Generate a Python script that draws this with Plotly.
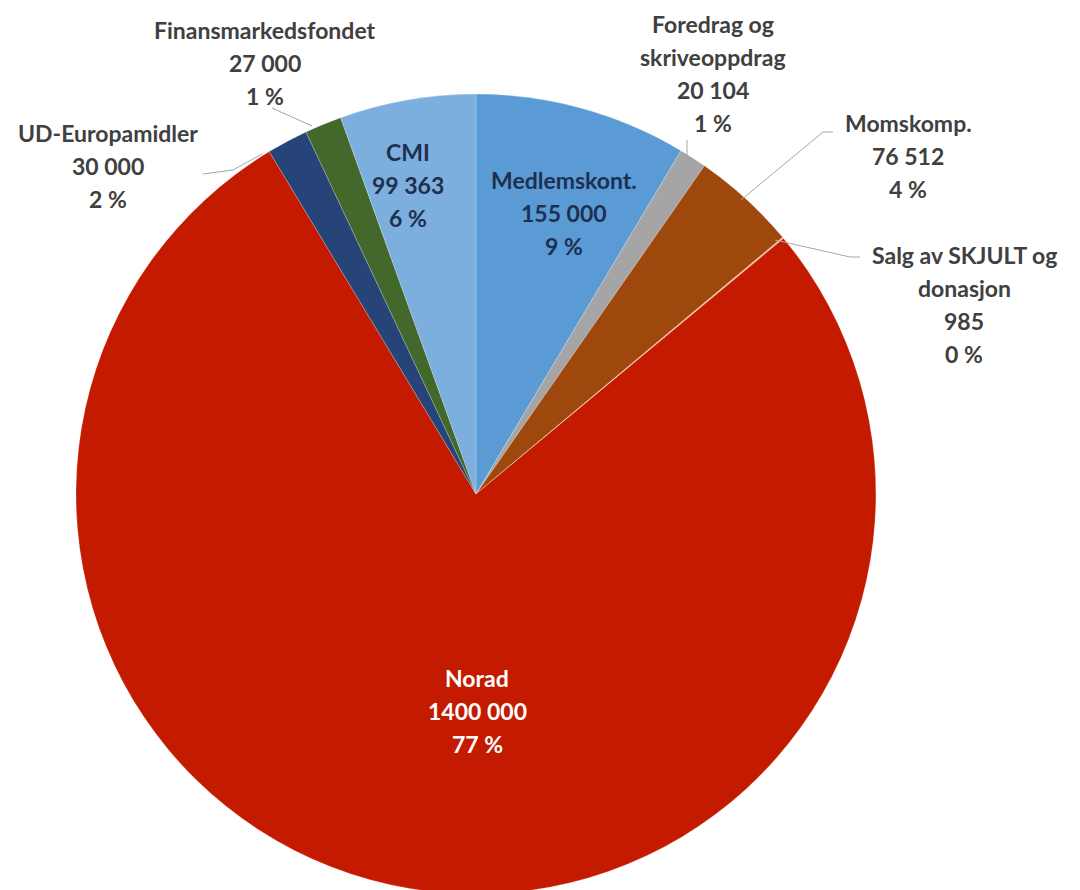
import plotly.graph_objects as go

labels = ["Medlemskont.", "Foredrag og skriveoppdrag", "Momskomp.", "Salg av SKJULT og donasjon",
          "Norad", "UD-Europamidler", "Finansmarkedsfondet", "CMI"]
label_lines = [["Medlemskont."], ["Foredrag og", "skriveoppdrag"], ["Momskomp."],
               ["Salg av SKJULT og", "donasjon"], ["Norad"], ["UD-Europamidler"],
               ["Finansmarkedsfondet"], ["CMI"]]
values = [155000, 20104, 76512, 985, 1400000, 30000, 27000, 99363]
value_text = ["155 000", "20 104", "76 512", "985", "1400 000", "30 000", "27 000", "99 363"]
pct_text = ["9 %", "1 %", "4 %", "0 %", "77 %", "2 %", "1 %", "6 %"]
colors = ["#5B9BD5", "#A5A5A5", "#9E480E", "#F4B183", "#C41A00", "#264478", "#43682B", "#7CAFDD"]
text_colors = ["#1F2F4F", "#404040", "#404040", "#404040", "#FFFFFF", "#404040", "#404040", "#1F2F4F"]

W, H = 1080, 890
OFF = 8  # page body margin offset
# label block top-line centres (page pixels) and leader lines
label_pos = [(564, 180), (713, 24), (908, 123), (964, 255), (477, 678), (108, 133), (265, 30), (408, 152)]
LINE_H = 33
leaders = [
    None,
    [(687, 140), (687, 158)],
    [(833, 132), (823, 132), (741, 200)],
    [(860, 257), (850, 257), (775, 240)],
    None,
    [(203, 174), (233, 170), (262, 154)],
    [(272, 108), (312, 126)],
    None,
]

fig = go.Figure(go.Pie(
    labels=labels, values=values, sort=False, direction="clockwise", rotation=0,
    marker=dict(colors=colors, line=dict(color="rgba(255,255,255,0.35)", width=0.6)),
    textinfo="none", hoverinfo="label+value+percent", showlegend=False,
    domain=dict(x=[0.0629, 0.8037], y=[0.0045, 0.9033]),
))

def px(x, y):
    return (x - OFF) / W, 1 - (y - OFF) / H

annotations = []
for i in range(len(labels)):
    lines = label_lines[i] + [value_text[i], pct_text[i]]
    cx, cy = label_pos[i]
    for k, t in enumerate(lines):
        xx, yy = px(cx, cy + k * LINE_H)
        annotations.append(dict(x=xx, y=yy, xref="paper", yref="paper", text="<b>" + t + "</b>",
                                showarrow=False, xanchor="center", yanchor="middle",
                                font=dict(family="Lato", size=23, color=text_colors[i])))

shapes = []
for ld in leaders:
    if ld is None:
        continue
    path = "M " + " L ".join(f"{px(x, y)[0]:.5f},{px(x, y)[1]:.5f}" for x, y in ld)
    shapes.append(dict(type="path", path=path, xref="paper", yref="paper",
                       line=dict(color="#A6A6A6", width=1)))

fig.update_layout(width=W, height=H, margin=dict(l=0, r=0, t=0, b=0),
                  paper_bgcolor="white", plot_bgcolor="white",
                  annotations=annotations, shapes=shapes)
fig.write_html("out.html")
